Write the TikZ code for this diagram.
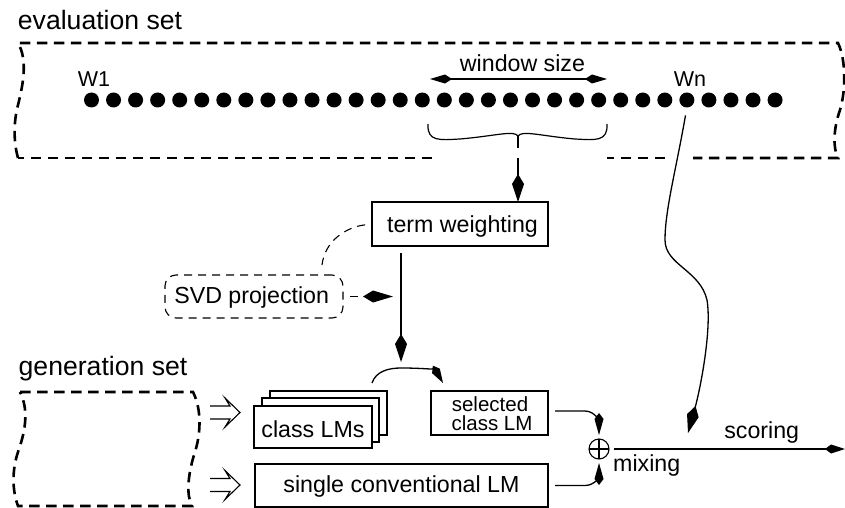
\documentclass[tikz,border=0pt]{standalone}
\usepackage{fontspec}
\setmainfont{Liberation Sans}
\usetikzlibrary{arrows.meta,calc}
\begin{document}
\begin{tikzpicture}[x=1pt,y=-1pt,
 every node/.style={inner sep=0pt, outer sep=0pt},
 dot/.style={circle, fill=black, minimum size=15pt},
 box/.style={draw, line width=1.3pt, fill=white},
 txt/.style={font=\fontsize{23.2}{27}\selectfont, anchor=base},
 lbl/.style={font=\fontsize{26.6}{30}\selectfont, anchor=base},
 smalltxt/.style={font=\fontsize{20.5}{24}\selectfont, anchor=base},
 wtxt/.style={font=\fontsize{21.5}{25}\selectfont, anchor=base},
 setline/.style={line width=2.6pt, dash pattern=on 10.5pt off 6.5pt},
 thindash/.style={line width=1.1pt, dash pattern=on 8pt off 6pt},
 conn/.style={line width=1.3pt},
 ka/.style={-{Kite[length=28pt,width=12pt,inset=10pt]}},
 kb/.style={-{Kite[length=22pt,width=9pt,inset=6pt]}},
 kboth/.style={{Kite[length=22pt,width=9pt,inset=7pt]}-{Kite[length=22pt,width=9pt,inset=7pt]}},
 hollow/.pic={\draw[line width=1.1pt, line join=miter] (0,-6.5) -- (20,-6.5) -- (15,-14.5) -- (30,0) -- (15,14.5) -- (20,6.5) -- (0,6.5);}
]
\useasboundingbox (0,0) rectangle (845,508);
\fill[white] (0,0) rectangle (845,508);

% labels
\node[lbl] (evl) at (100,30) {evaluation set};
\node[lbl] (genl) at (103,375) {generation set};

% evaluation set outline
\draw[setline] (18,158) .. controls (13,140) and (14,120) .. (18,105) .. controls (23,85) and (28,60) .. (18,43) -- (838,43) .. controls (846,60) and (846,90) .. (840,110) .. controls (833,130) and (833,148) .. (838,158) -- (693,158);
\draw[setline] (665,158) -- (607,158);
\draw[setline] (432,158) -- (18,158);

% generation set outline
\draw[setline] (20,392) -- (193,392) .. controls (202,410) and (201,435) .. (194,455) .. controls (188,475) and (186,495) .. (192,506) -- (18,506) .. controls (12,490) and (12,470) .. (18,452) .. controls (24,435) and (30,412) .. (20,392);

% words
\foreach \i in {1,...,32} \node[dot] (d\i) at ({91.5+(\i-1)*22.05},100) {};
\node[wtxt] (w1) at (94,87) {W1};
\node[wtxt] (wn) at (690,87) {Wn};

% window size
\coordinate (wsl) at (430,79);
\coordinate (wsr) at (607,79);
\draw[conn,kboth] (wsl) -- (wsr);
\node[txt] (wst) at (522.5,72) {window size};

% brace
\draw[line width=1.2pt] (428,124) .. controls (427,142) and (440,140) .. (460,139) .. controls (495,136) and (514,130) .. (518,136) .. controls (522,130) and (541,136) .. (575,139) .. controls (595,140) and (608,142) .. (607,124);
\draw[line width=1.2pt] (518,136) -- (518,148);
\coordinate (bt) at (518,158);

% term weighting
\node[box, minimum width=176pt, minimum height=44pt] (tw) at (460,224) {};
\node[txt] (twt) at (462.5,232) {term weighting};
\draw[conn,ka] (bt) -- (bt |- tw.north);

% SVD projection
\node[box, dash pattern=on 8pt off 6pt, line width=1.1pt, rounded corners=11pt, minimum width=178pt, minimum height=43pt] (svd) at (254,296.5) {};
\node[txt] (svdt) at (251.7,303) {SVD projection};
\draw[thindash, shorten <=7pt] (tw.west) .. controls +(-25,3) and +(3,-25) .. ($(svd.north)+(68,-10)$);

\coordinate (brk) at (401,368);
\draw[conn, ka, shorten <=7pt, shorten >=6pt] (tw.south -| brk) -- (brk);
\draw[thindash, -{Kite[length=30pt,width=12pt,inset=10pt]}, shorten <=7pt, shorten >=8pt] (svd.east) -- (svd.east -| brk);

% class LMs stack
\node[box, minimum width=117pt, minimum height=44pt] (cl3) at (328.5,413) {};
\node[box, minimum width=117pt, minimum height=44pt] (cl2) at (320.5,420) {};
\node[box, minimum width=118pt, minimum height=42pt] (cl1) at (313,427) {};
\node[txt] (clt) at (313,437) {class LMs};

% selected class LM
\node[box, minimum width=117pt, minimum height=44pt] (sel) at (489.5,413) {};
\node[smalltxt] (selt1) at (490,411) {selected};
\node[smalltxt] (selt2) at (492,430) {class LM};

% single conventional LM
\node[box, minimum width=293pt, minimum height=43pt] (single) at (401.5,485.5) {};
\node[txt] (singlet) at (401.5,492) {single conventional LM};

% bracket selection arrow
\draw[conn, -{Kite[length=20pt,width=9pt,inset=6pt]}] ($(cl3.north east)+(-15,-8)$) .. controls +(4,-12) and +(-12,0) .. (brk) .. controls +(30,0) and +(-7,-12) .. ($(sel.north west)+(12,-8)$);

% hollow arrows
\pic at (210,412.5) {hollow};
\pic at (210,485) {hollow};

% mixing
\node[circle, draw, line width=1.1pt, minimum size=20pt] (op) at (599,449) {};
\draw[line width=1.1pt] (op.north) -- (op.south) (op.west) -- (op.east);
\draw[conn, kb, shorten <=7pt, shorten >=4pt] ([yshift=2pt]sel.east) -- ++(37,0) .. controls +(11,0) and +(0,-15) .. (op.north);
\draw[conn, kb, shorten <=7pt, shorten >=4pt] (single.east) -- ++(37,0) .. controls +(11,0) and +(0,15) .. (op.south);

% scoring
\coordinate (se) at (845,449);
\draw[conn, -{Kite[length=20pt,width=9pt,inset=6pt]}, shorten <=5pt] (op.east) -- (se);
\node[txt] (sct) at (761.7,438) {scoring};
\node[txt] (mxt) at (646.7,471) {mixing};

% Wn to scoring
\coordinate (wne) at (688,433);
\draw[conn, ka, shorten <=8pt] (d28.south) .. controls (676,170) and (665,210) .. (665,240) .. controls (665,265) and (700,270) .. (707,300) .. controls (712,330) and (700,390) .. (wne);
\end{tikzpicture}
\end{document}
